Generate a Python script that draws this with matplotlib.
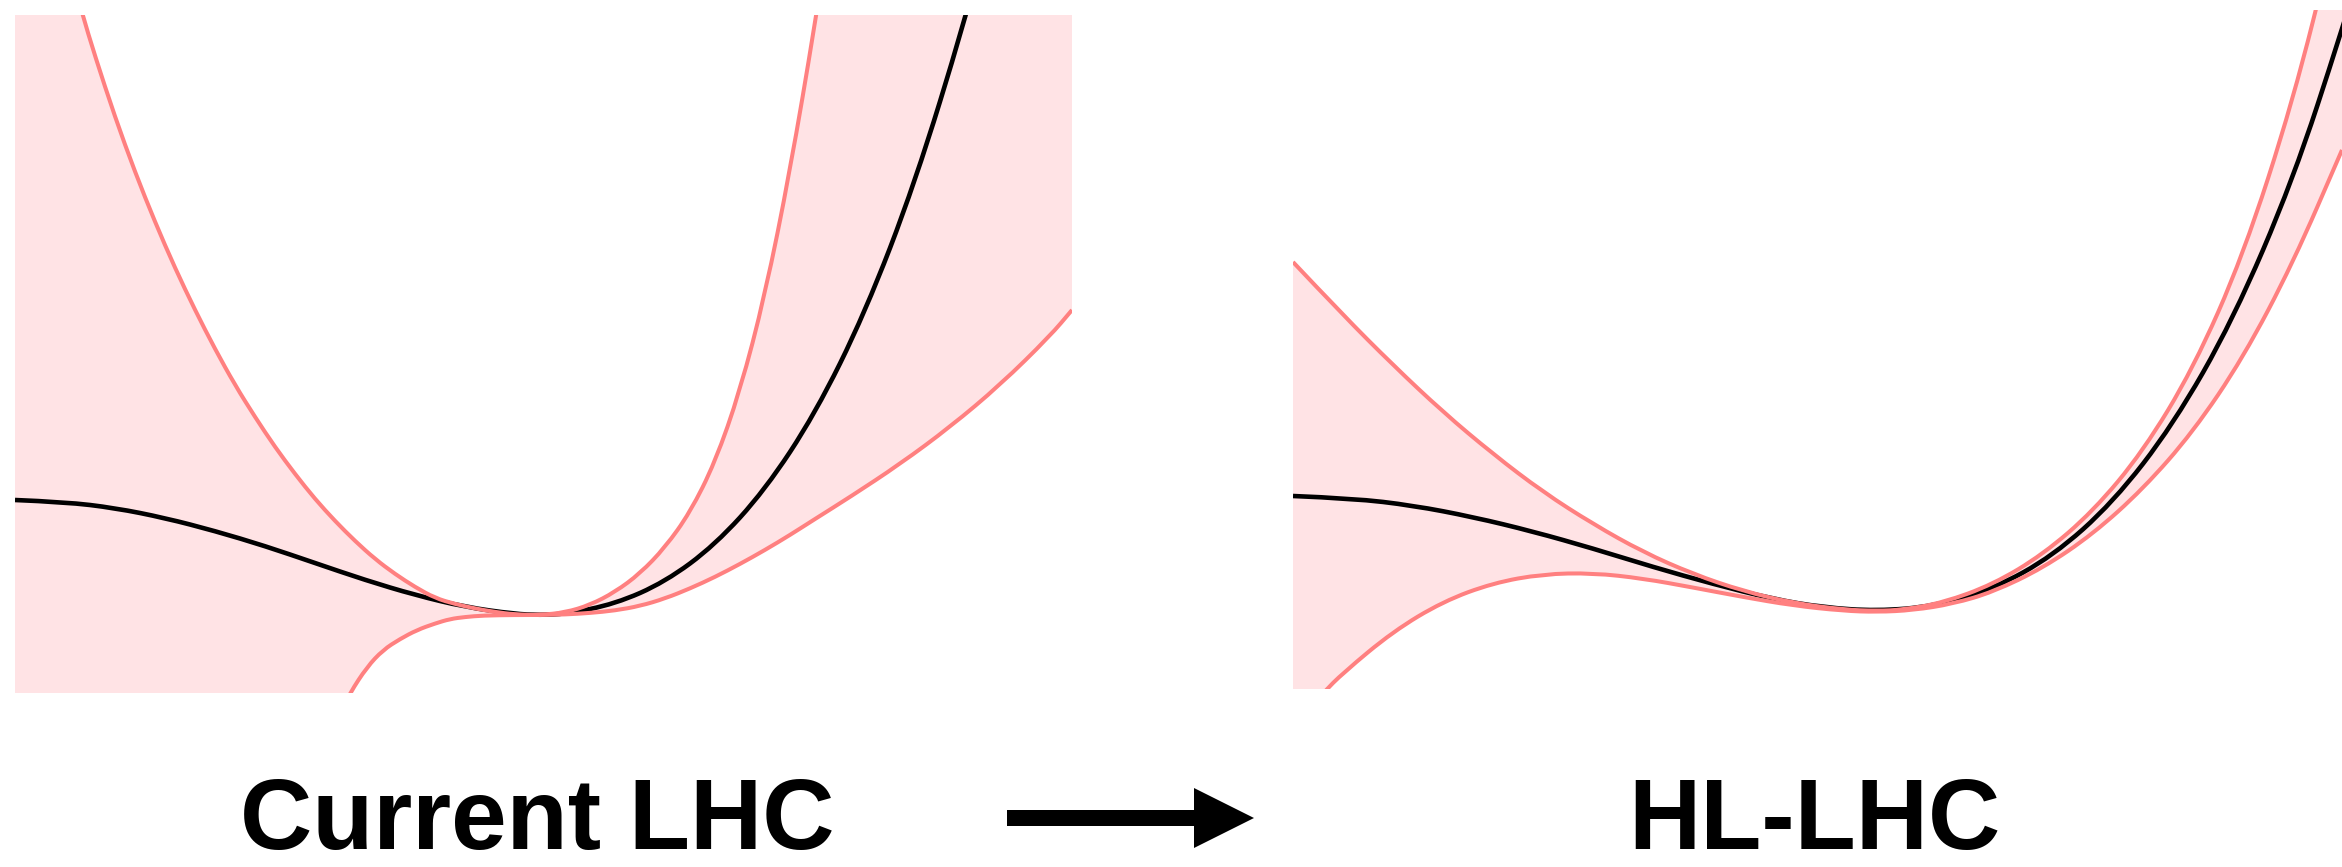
import matplotlib
matplotlib.use("Agg")
import matplotlib.pyplot as plt
from matplotlib.patches import FancyArrow, PathPatch
from matplotlib.path import Path

# ---------------- data (field value h, potential V; arbitrary units) ----------------
# Current LHC panel: SM potential (black), upper / lower edge of the band (pink)
cur_sm_h = [0, 50, 100, 150, 200, 250, 300, 350, 400, 450, 500, 525, 550, 600, 650, 700, 750, 800, 850, 900, 950, 975]
cur_sm_V = [200, 198, 192, 182, 169, 154, 137, 120, 105, 93, 86, 85, 86, 96, 118, 155, 210, 286, 387, 517, 680, 775]

cur_hi_h = [0, 40, 67, 80, 100, 120, 140, 160, 180, 200, 220, 240, 260, 280, 300, 320, 340, 360, 380, 400, 420, 440,
            460, 480, 500, 525, 550, 575, 600, 625, 650, 675, 700, 725, 750, 775, 800, 815]
cur_hi_V = [940, 784, 687, 644, 583, 528, 478, 432, 390, 351, 315, 283, 253, 226, 201, 179, 159, 141, 126, 113, 102, 96,
            91.5, 88, 85.5, 85, 87.5, 95, 108, 126.5, 152.5, 187.5, 237.5, 309, 405, 529, 676, 775]

cur_lo_h = [0, 250, 300, 320, 335, 352, 368, 385, 402, 420, 435, 450, 468, 500, 525, 550, 575, 600, 625, 650, 675,
            700, 725, 750, 775, 800, 835, 885, 935, 985, 1035, 1057]
cur_lo_V = [-1000, -220, -75, -22, 7, 33, 50, 61, 70, 76.5, 81, 83, 84.5, 85, 85, 85.5, 87, 89.5, 94, 101.5, 111.5,
            123, 136, 150, 165, 181, 203, 236, 273, 315, 364, 390]

# HL-LHC panel
hl_sm_h = [0, 60, 120, 180, 240, 300, 360, 420, 480, 530, 584, 640, 700, 760, 820, 880, 940, 1000, 1049, 1070]
hl_sm_V = [204, 201.6, 194.5, 183, 168.5, 151.5, 133, 116, 101, 92.6, 89, 93.6, 111, 144, 197.5, 275, 380, 520, 670, 740]

hl_hi_h = [0, 50, 100, 150, 200, 250, 300, 350, 400, 450, 500, 550, 584, 610, 650, 700, 750, 800, 850, 900, 950,
           1000, 1040]
hl_hi_V = [438, 385, 335, 288, 246, 208, 176, 148, 126, 109, 97, 90.4, 89, 90.3, 97.3, 115.6, 145.6, 188.6, 248.6,
           331, 444, 599, 759]

hl_lo_h = [0, 30, 50, 100, 150, 200, 250, 300, 350, 400, 450, 500, 550, 584, 620, 660, 700, 750, 800, 850, 900,
           950, 1000, 1049]
hl_lo_V = [-27, 7, 27, 68.5, 98.5, 117, 126, 127, 121.5, 112.5, 103, 94.5, 89.2, 88, 89.8, 96.2, 108, 132, 166,
           211, 268, 342, 437, 550]

labels = ["Current LHC", "HL-LHC"]

# ---------------- style ----------------
W, H = 2342, 867
LINE = "#ff8080"
FILL = "#ffe3e5"

fig = plt.figure(figsize=(W / 100, H / 100), dpi=100)


def smooth_path(h, V):
    """Quadratic-Bezier path guided by the sampled points (drawn by matplotlib)."""
    pts = list(zip(h, V))
    verts = [pts[0]]
    codes = [Path.MOVETO]
    for i in range(1, len(pts) - 1):
        mid = ((pts[i][0] + pts[i + 1][0]) / 2, (pts[i][1] + pts[i + 1][1]) / 2)
        verts += [pts[i], mid]
        codes += [Path.CURVE3, Path.CURVE3]
    verts.append(pts[-1])
    codes.append(Path.LINETO)
    return verts, codes


def panel(rect, xlim, ylim, sm_h, sm_V, hi_h, hi_V, lo_h, lo_V, top):
    ax = fig.add_axes(rect)
    ax.set_xlim(*xlim)
    ax.set_ylim(*ylim)
    ax.axis("off")
    # band: upper envelope, over the top-right corner, lower envelope back
    uv, uc = smooth_path(hi_h, hi_V)
    lv, lc = smooth_path(lo_h[::-1], lo_V[::-1])
    lc = [Path.LINETO] + lc[1:]
    verts = uv + [(xlim[1], top)] + lv + [uv[0]]
    codes = uc + [Path.LINETO] + lc + [Path.CLOSEPOLY]
    ax.add_patch(PathPatch(Path(verts, codes), facecolor=FILL, edgecolor="none", zorder=1))
    for (hh, vv), col, lw, z in [((sm_h, sm_V), "black", 3.3, 2),
                                 ((hi_h, hi_V), LINE, 2.9, 3),
                                 ((lo_h, lo_V), LINE, 2.9, 3)]:
        v, c = smooth_path(hh, vv)
        ax.add_patch(PathPatch(Path(v, c), facecolor="none", edgecolor=col, lw=lw,
                               capstyle="butt", joinstyle="round", zorder=z))
    return ax


panel([15 / W, (H - 693) / H, 1057 / W, 678 / H], (0, 1057), (7, 685),
      cur_sm_h, cur_sm_V, cur_hi_h, cur_hi_V, cur_lo_h, cur_lo_V, 780)
panel([1293 / W, (H - 689) / H, 1049 / W, 679 / H], (0, 1049), (11, 690),
      hl_sm_h, hl_sm_V, hl_hi_h, hl_hi_V, hl_lo_h, hl_lo_V, 760)

# overlay for labels and arrow (pixel units)
ov = fig.add_axes([0, 0, 1, 1])
ov.set_xlim(0, W)
ov.set_ylim(H, 0)
ov.axis("off")
ov.patch.set_alpha(0)

font = dict(family=["Liberation Sans", "DejaVu Sans"], weight="bold", fontsize=72)
ov.text(240, 849, labels[0], ha="left", va="baseline", color="black", **font)
ov.text(1628, 849, labels[1], ha="left", va="baseline", color="black", **font)
ov.add_patch(FancyArrow(1007, 818, 247, 0, width=16, head_width=60, head_length=60,
                        length_includes_head=True, color="black", lw=0))

fig.savefig("out.png", dpi=100)
